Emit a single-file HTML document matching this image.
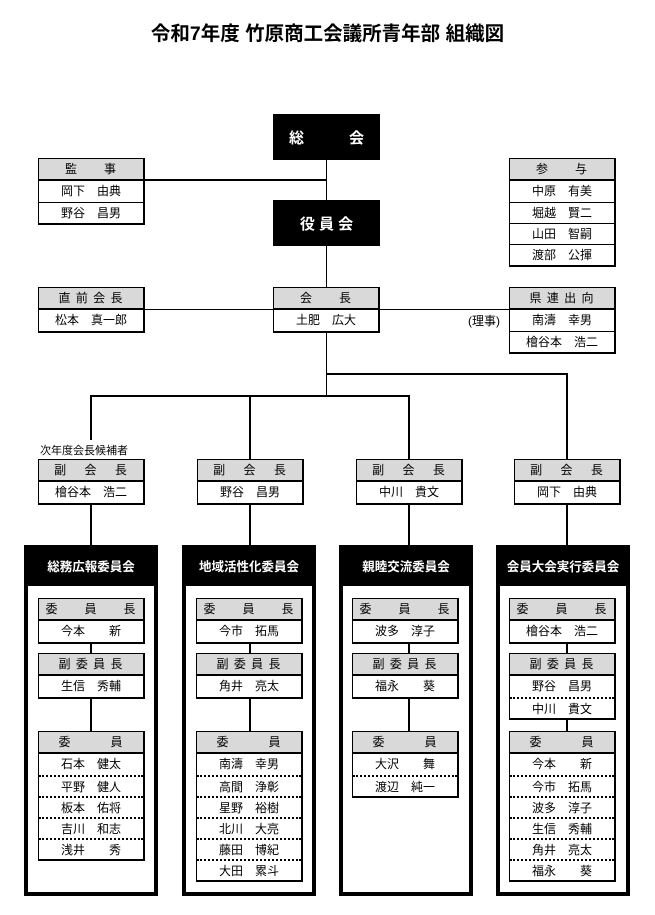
<!DOCTYPE html>
<html><head><meta charset="utf-8"><style>
*{margin:0;padding:0;box-sizing:border-box}
body{width:655px;height:915px;background:#fff;position:relative;font-family:"Liberation Sans","Noto Sans CJK JP",sans-serif;color:#000;overflow:hidden}
.a{position:absolute}
.t{left:0;width:655px;top:17px;text-align:center;font-size:19.5px;font-weight:bold}
.bk{background:#000;color:#fff;font-weight:bold;font-size:15px;display:flex;align-items:center;justify-content:center}
.bx{position:absolute;width:107px;border-left:1px solid #000;border-top:1px solid #000;border-right:2px solid #000;border-bottom:2px solid #000;background:#fff;font-size:12px}
.bx div{height:21px;line-height:20px;text-align:center;white-space:pre}
.bx .h{background:#d9d9d9;border-bottom:2px solid #000;height:22px;letter-spacing:1px}
.bx .r+.r{border-top:1px solid #000}
.bx.d .r+.r{border-top:2px dotted #000}
.hl{position:absolute;background:#000}
.cm{position:absolute;width:134px;height:351px;border:4px solid #000;background:#fff}
.cm .ch{background:#000;color:#fff;height:38px;line-height:38px;text-align:center;font-weight:bold;font-size:12.5px;margin:-1px}
.sm{font-size:11px}
</style></head><body>
<div class="a t">令和7年度 竹原商工会議所青年部 組織図</div>

<div class="hl" style="left:326px;top:160px;width:1px;height:40px"></div>
<div class="hl" style="left:145px;top:179px;width:182px;height:2px"></div>
<div class="hl" style="left:326px;top:246px;width:1px;height:41px"></div>
<div class="hl" style="left:145px;top:309px;width:364px;height:1px"></div>
<div class="hl" style="left:326px;top:331px;width:1px;height:66px"></div>
<div class="hl" style="left:326px;top:373px;width:242px;height:2px"></div>
<div class="hl" style="left:566px;top:373px;width:2px;height:86px"></div>
<div class="hl" style="left:90px;top:395px;width:320px;height:2px"></div>
<div class="hl" style="left:90px;top:395px;width:2px;height:45px"></div>
<div class="hl" style="left:249px;top:395px;width:2px;height:64px"></div>
<div class="hl" style="left:408px;top:395px;width:2px;height:64px"></div>
<div class="hl" style="left:90px;top:503px;width:2px;height:42px"></div>
<div class="hl" style="left:249px;top:503px;width:2px;height:42px"></div>
<div class="hl" style="left:408px;top:503px;width:2px;height:42px"></div>
<div class="hl" style="left:566px;top:503px;width:2px;height:42px"></div>

<div class="a bk" style="left:273px;top:114px;width:107px;height:46px">総　　　会</div>
<div class="a bk" style="left:273px;top:200px;width:107px;height:46px">役 員 会</div>

<div class="bx" style="left:38px;top:158px"><div class="h">監　　事</div><div class="r">岡下　由典</div><div class="r">野谷　昌男</div></div>
<div class="bx" style="left:509px;top:158px"><div class="h">参　　与</div><div class="r">中原　有美</div><div class="r">堀越　賢二</div><div class="r">山田　智嗣</div><div class="r">渡部　公揮</div></div>
<div class="bx" style="left:38px;top:287px"><div class="h">直 前 会 長</div><div class="r">松本　真一郎</div></div>
<div class="bx" style="left:273px;top:287px"><div class="h">会　　長</div><div class="r">土肥　広大</div></div>
<div class="bx" style="left:509px;top:287px"><div class="h">県 連 出 向</div><div class="r">南濤　幸男</div><div class="r">檜谷本　浩二</div></div>
<div class="a" style="left:468px;top:312px;font-size:12px">(理事)</div>

<div class="a sm" style="left:40px;top:442px">次年度会長候補者</div>
<div class="bx" style="left:38px;top:459px"><div class="h">副　 会　 長</div><div class="r">檜谷本　浩二</div></div>
<div class="bx" style="left:197px;top:459px"><div class="h">副　 会　 長</div><div class="r">野谷　昌男</div></div>
<div class="bx" style="left:356px;top:459px"><div class="h">副　 会　 長</div><div class="r">中川　貴文</div></div>
<div class="bx" style="left:514px;top:459px"><div class="h">副　 会　 長</div><div class="r">岡下　由典</div></div>

<div class="cm" style="left:24px;top:545px"><div class="ch">総務広報委員会</div></div>
<div class="cm" style="left:182px;top:545px"><div class="ch">地域活性化委員会</div></div>
<div class="cm" style="left:339px;top:545px"><div class="ch">親睦交流委員会</div></div>
<div class="cm" style="left:496px;top:545px"><div class="ch">会員大会実行委員会</div></div>

<div class="hl" style="left:90px;top:641px;width:2px;height:90px"></div>
<div class="hl" style="left:249px;top:641px;width:2px;height:90px"></div>
<div class="hl" style="left:408px;top:641px;width:2px;height:90px"></div>
<div class="hl" style="left:566px;top:641px;width:2px;height:90px"></div>

<div class="bx" style="left:38px;top:598px"><div class="h">委　　員　　長</div><div class="r">今本　　新</div></div>
<div class="bx" style="left:38px;top:653px"><div class="h">副 委 員 長</div><div class="r">生信　秀輔</div></div>
<div class="bx d" style="left:38px;top:731px"><div class="h">委　　　員</div><div class="r">石本　健太</div><div class="r">平野　健人</div><div class="r">板本　佑将</div><div class="r">吉川　和志</div><div class="r">浅井　　秀</div></div>

<div class="bx" style="left:196px;top:598px"><div class="h">委　　員　　長</div><div class="r">今市　拓馬</div></div>
<div class="bx" style="left:196px;top:653px"><div class="h">副 委 員 長</div><div class="r">角井　亮太</div></div>
<div class="bx d" style="left:196px;top:731px"><div class="h">委　　　員</div><div class="r">南濤　幸男</div><div class="r">高間　浄彰</div><div class="r">星野　裕樹</div><div class="r">北川　大亮</div><div class="r">藤田　博紀</div><div class="r">大田　累斗</div></div>

<div class="bx" style="left:352px;top:598px"><div class="h">委　　員　　長</div><div class="r">波多　淳子</div></div>
<div class="bx" style="left:352px;top:653px"><div class="h">副 委 員 長</div><div class="r">福永　　葵</div></div>
<div class="bx d" style="left:352px;top:731px"><div class="h">委　　　員</div><div class="r">大沢　　舞</div><div class="r">渡辺　純一</div></div>

<div class="bx" style="left:509px;top:598px"><div class="h">委　　員　　長</div><div class="r">檜谷本　浩二</div></div>
<div class="bx d" style="left:509px;top:653px"><div class="h">副 委 員 長</div><div class="r">野谷　昌男</div><div class="r">中川　貴文</div></div>
<div class="bx d" style="left:509px;top:731px"><div class="h">委　　　員</div><div class="r">今本　　新</div><div class="r">今市　拓馬</div><div class="r">波多　淳子</div><div class="r">生信　秀輔</div><div class="r">角井　亮太</div><div class="r">福永　　葵</div></div>
</body></html>
